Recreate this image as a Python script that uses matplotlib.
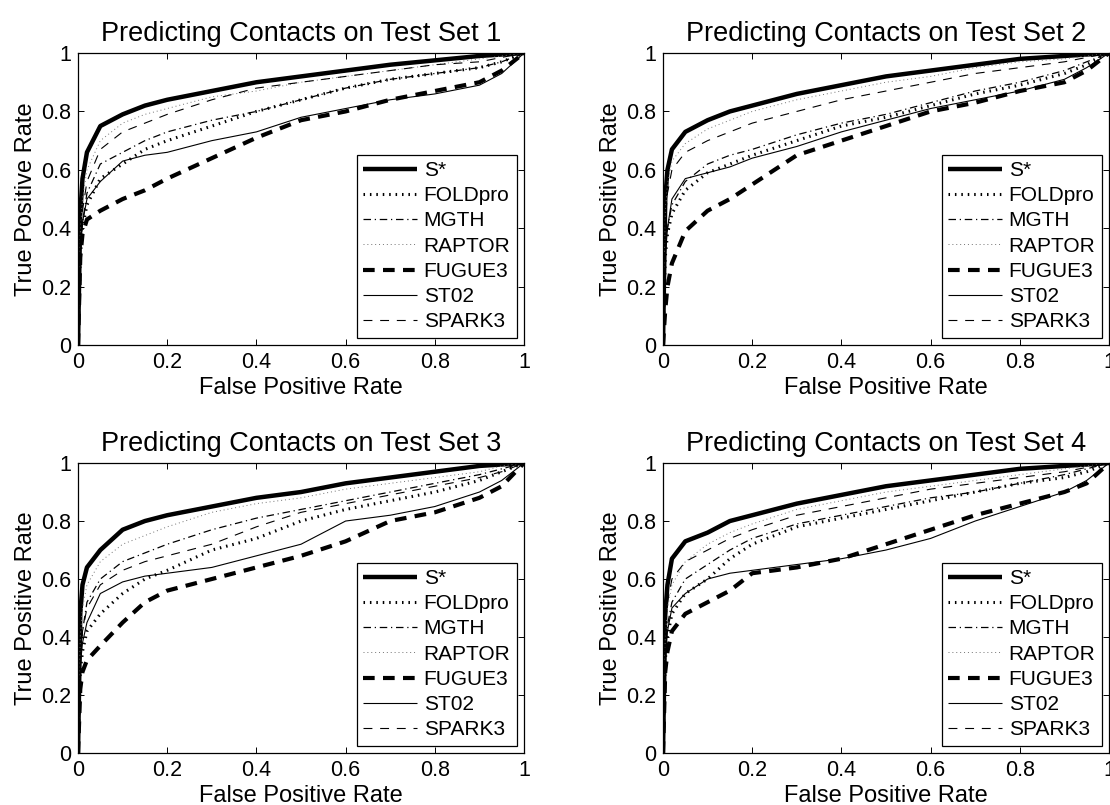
import numpy as np
import matplotlib
matplotlib.use("Agg")
from matplotlib import pyplot as plt

plt.rcParams['font.family'] = ['Liberation Sans', 'DejaVu Sans']

# common false positive rate grid for every curve
fpr = [0, 0.005, 0.01, 0.02, 0.05, 0.1, 0.15, 0.2, 0.3, 0.4, 0.5, 0.6, 0.7, 0.8, 0.9, 0.95, 1.0]

methods = ['S*', 'FOLDpro', 'MGTH', 'RAPTOR', 'FUGUE3', 'ST02', 'SPARK3']

# true positive rates, one dict per test set
set1 = {
    'S*':      [0, 0.45, 0.57, 0.66, 0.75, 0.79, 0.82, 0.84, 0.87, 0.90, 0.92, 0.94, 0.96, 0.975, 0.99, 0.995, 1.0],
    'FOLDpro': [0, 0.30, 0.40, 0.48, 0.57, 0.62, 0.67, 0.70, 0.75, 0.80, 0.84, 0.88, 0.91, 0.93, 0.95, 0.97, 1.0],
    'MGTH':    [0, 0.32, 0.42, 0.52, 0.62, 0.66, 0.70, 0.73, 0.77, 0.80, 0.84, 0.88, 0.91, 0.93, 0.95, 0.97, 1.0],
    'RAPTOR':  [0, 0.38, 0.50, 0.60, 0.70, 0.76, 0.79, 0.81, 0.85, 0.87, 0.90, 0.92, 0.94, 0.96, 0.98, 0.99, 1.0],
    'FUGUE3':  [0, 0.30, 0.38, 0.43, 0.46, 0.50, 0.53, 0.57, 0.64, 0.71, 0.77, 0.80, 0.84, 0.87, 0.90, 0.94, 1.0],
    'ST02':    [0, 0.33, 0.42, 0.50, 0.56, 0.63, 0.65, 0.66, 0.70, 0.73, 0.78, 0.81, 0.84, 0.86, 0.89, 0.93, 1.0],
    'SPARK3':  [0, 0.35, 0.46, 0.56, 0.67, 0.73, 0.76, 0.79, 0.84, 0.88, 0.90, 0.92, 0.94, 0.96, 0.97, 0.985, 1.0],
}

set2 = {
    'S*':      [0, 0.50, 0.60, 0.67, 0.73, 0.77, 0.80, 0.82, 0.86, 0.89, 0.92, 0.94, 0.96, 0.98, 0.99, 0.995, 1.0],
    'FOLDpro': [0, 0.30, 0.38, 0.45, 0.53, 0.59, 0.62, 0.65, 0.70, 0.75, 0.78, 0.82, 0.86, 0.89, 0.93, 0.96, 1.0],
    'MGTH':    [0, 0.32, 0.40, 0.48, 0.56, 0.62, 0.65, 0.67, 0.72, 0.76, 0.79, 0.83, 0.87, 0.90, 0.94, 0.97, 1.0],
    'RAPTOR':  [0, 0.45, 0.55, 0.63, 0.69, 0.74, 0.77, 0.80, 0.84, 0.87, 0.90, 0.92, 0.95, 0.97, 0.98, 0.99, 1.0],
    'FUGUE3':  [0, 0.12, 0.20, 0.28, 0.39, 0.46, 0.50, 0.55, 0.65, 0.70, 0.75, 0.80, 0.83, 0.87, 0.90, 0.94, 1.0],
    'ST02':    [0, 0.30, 0.40, 0.50, 0.57, 0.59, 0.61, 0.64, 0.68, 0.73, 0.77, 0.81, 0.84, 0.87, 0.91, 0.95, 1.0],
    'SPARK3':  [0, 0.42, 0.52, 0.60, 0.66, 0.70, 0.73, 0.76, 0.80, 0.84, 0.87, 0.90, 0.93, 0.95, 0.97, 0.985, 1.0],
}

set3 = {
    'S*':      [0, 0.48, 0.58, 0.64, 0.70, 0.77, 0.80, 0.82, 0.85, 0.88, 0.90, 0.93, 0.95, 0.97, 0.99, 0.995, 1.0],
    'FOLDpro': [0, 0.28, 0.35, 0.42, 0.48, 0.55, 0.60, 0.63, 0.70, 0.74, 0.80, 0.84, 0.87, 0.90, 0.94, 0.97, 1.0],
    'MGTH':    [0, 0.33, 0.42, 0.52, 0.60, 0.66, 0.69, 0.72, 0.77, 0.81, 0.84, 0.87, 0.90, 0.93, 0.96, 0.98, 1.0],
    'RAPTOR':  [0, 0.40, 0.50, 0.58, 0.66, 0.72, 0.75, 0.78, 0.83, 0.86, 0.88, 0.91, 0.93, 0.95, 0.97, 0.99, 1.0],
    'FUGUE3':  [0, 0.22, 0.28, 0.32, 0.37, 0.45, 0.52, 0.56, 0.60, 0.64, 0.68, 0.73, 0.80, 0.83, 0.88, 0.92, 1.0],
    'ST02':    [0, 0.30, 0.38, 0.45, 0.55, 0.59, 0.61, 0.62, 0.64, 0.68, 0.72, 0.80, 0.82, 0.85, 0.90, 0.94, 1.0],
    'SPARK3':  [0, 0.32, 0.42, 0.50, 0.58, 0.63, 0.66, 0.68, 0.72, 0.78, 0.83, 0.86, 0.89, 0.92, 0.95, 0.97, 1.0],
}

set4 = {
    'S*':      [0, 0.48, 0.58, 0.67, 0.73, 0.76, 0.80, 0.82, 0.86, 0.89, 0.92, 0.94, 0.96, 0.98, 0.99, 0.995, 1.0],
    'FOLDpro': [0, 0.32, 0.40, 0.48, 0.55, 0.60, 0.67, 0.72, 0.78, 0.81, 0.84, 0.87, 0.90, 0.93, 0.95, 0.97, 1.0],
    'MGTH':    [0, 0.35, 0.44, 0.52, 0.60, 0.65, 0.70, 0.74, 0.79, 0.82, 0.85, 0.88, 0.90, 0.93, 0.96, 0.98, 1.0],
    'RAPTOR':  [0, 0.40, 0.50, 0.58, 0.66, 0.72, 0.76, 0.79, 0.84, 0.87, 0.90, 0.92, 0.94, 0.96, 0.98, 0.99, 1.0],
    'FUGUE3':  [0, 0.28, 0.35, 0.42, 0.48, 0.52, 0.56, 0.62, 0.64, 0.67, 0.72, 0.77, 0.82, 0.86, 0.90, 0.93, 1.0],
    'ST02':    [0, 0.32, 0.42, 0.50, 0.55, 0.60, 0.62, 0.63, 0.65, 0.67, 0.70, 0.74, 0.80, 0.85, 0.90, 0.94, 1.0],
    'SPARK3':  [0, 0.42, 0.52, 0.60, 0.66, 0.70, 0.74, 0.77, 0.82, 0.85, 0.88, 0.91, 0.93, 0.95, 0.97, 0.985, 1.0],
}

titles = ['Predicting Contacts on Test Set 1', 'Predicting Contacts on Test Set 2',
          'Predicting Contacts on Test Set 3', 'Predicting Contacts on Test Set 4']
tick_vals = [0, 0.2, 0.4, 0.6, 0.8, 1]
tick_labels = ['0', '0.2', '0.4', '0.6', '0.8', '1']

# MATLAB-ish line styles
styles = {
    'S*':      dict(ls='-', lw=3.2),
    'FOLDpro': dict(ls=(0, (0.5, 1.6)), lw=2.2),
    'MGTH':    dict(ls=(0, (6, 3, 1, 3)), lw=0.9),
    'RAPTOR':  dict(ls=(0, (1, 3)), lw=0.7, color='0.45'),
    'FUGUE3':  dict(ls=(0, (2.8, 2.0)), lw=3.0),
    'ST02':    dict(ls='-', lw=0.8),
    'SPARK3':  dict(ls=(0, (8, 7)), lw=0.8),
}

fig = plt.figure(figsize=(11.1, 8.05), dpi=100)
positions = [
    [0.0703, 0.5714, 0.4018, 0.3627],
    [0.5973, 0.5714, 0.4018, 0.3627],
    [0.0703, 0.0646, 0.4018, 0.3602],
    [0.5973, 0.0646, 0.4018, 0.3602],
]

for pos, data, title in zip(positions, [set1, set2, set3, set4], titles):
    ax = fig.add_axes(pos)
    for m in methods:
        st = dict(color='black')
        st.update(styles[m])
        ax.plot(fpr, data[m], label=m, solid_capstyle='butt', dash_capstyle='butt', **st)
    ax.set_xlim(0, 1)
    ax.set_ylim(0, 1)
    ax.set_xticks(tick_vals)
    ax.set_xticklabels(tick_labels)
    ax.set_yticks(tick_vals)
    ax.set_yticklabels(tick_labels)
    ax.tick_params(direction='in', length=4, width=0.7, top=True, right=True,
                   labelsize=15.5, pad=5)
    for sp in ax.spines.values():
        sp.set_linewidth(0.9)
    ax.set_title(title, fontsize=19.5, pad=9)
    ax.set_xlabel('False Positive Rate', fontsize=17, labelpad=3)
    ax.set_ylabel('True Positive Rate', fontsize=17, labelpad=3)
    leg = ax.legend(loc='lower right', fontsize=15, frameon=True, fancybox=False,
                    framealpha=1, edgecolor='black', borderpad=0.3, labelspacing=0.3,
                    handlelength=2.6, handletextpad=0.3, borderaxespad=0.35)
    leg.get_frame().set_linewidth(0.9)

fig.savefig('out.png', dpi=100)
